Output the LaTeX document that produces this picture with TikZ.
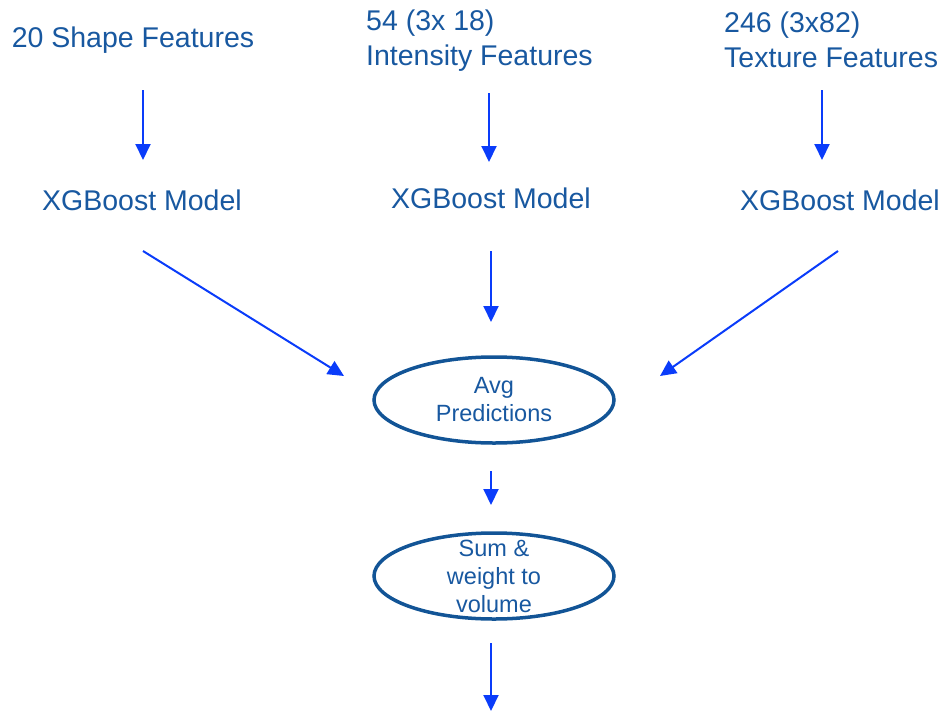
\documentclass[tikz,border=0pt]{standalone}
\usepackage{fontspec}
\setmainfont{Liberation Sans}
\usetikzlibrary{arrows.meta,calc,shapes.geometric}
\definecolor{txtblue}{RGB}{24,88,160}
\definecolor{ellblue}{RGB}{18,84,150}
\definecolor{arrblue}{RGB}{10,60,250}
\begin{document}
\begin{tikzpicture}[x=1pt,y=-1pt,
  big/.style={inner sep=0pt,text=txtblue,font=\fontsize{28.5}{35}\selectfont},
  small/.style={inner sep=0pt,text=txtblue,align=center,font=\fontsize{23.5}{28}\selectfont},
  ell/.style={draw=ellblue,line width=3.5pt,ellipse,minimum width=240pt,minimum height=86pt,inner sep=0pt},
  arr/.style={draw=arrblue,line width=2pt,-{Triangle[width=15pt,length=16pt]}}]
\useasboundingbox (0,0) rectangle (944,712);
\node[big] (t1) at (133,40) {20 Shape Features};
\node[big,anchor=west,align=left] (t2) at (366,41) {54 (3x 18)\\Intensity Features};
\node[big,anchor=west,align=left] (t3) at (724,40) {246 (3x82)\\Texture Features};
\node[big] (x1) at (142,200) {XGBoost Model};
\node[big] (x2) at (491,198) {XGBoost Model};
\node[big] (x3) at (840,200) {XGBoost Model};
\node[ell] (e1) at (494,400) {};
\node[small] (e1t) at (e1.center) {Avg\\Predictions};
\node[ell] (e2) at (494,576) {};
\node[small] (e2t) at (e2.center) {Sum \&\\weight to\\volume};
\draw[arr] ($(t1.center)+(10,50)$) -- ($(x1.center)+(1,-40)$);
\draw[arr] ($(t2.west)+(123,52)$) -- ($(x2.center)+(-2,-36)$);
\draw[arr] ($(t3.west)+(98,50)$) -- ($(x3.center)+(-18,-40)$);
\draw[arr] ($(x1.center)+(1,51)$) -- ($(e1.center)+(-150,-24)$);
\draw[arr] ($(x2.center)+(0,53)$) -- ($(e1.center)+(-3,-78)$);
\draw[arr] ($(x3.center)+(-2,51)$) -- ($(e1.center)+(166,-24)$);
\draw[arr] ($(e1.center)+(-3,71)$) -- ($(e2.center)+(-3,-71)$);
\draw[arr] ($(e2.center)+(-3,67)$) -- ($(e2.center)+(-3,135)$);
\end{tikzpicture}
\end{document}
